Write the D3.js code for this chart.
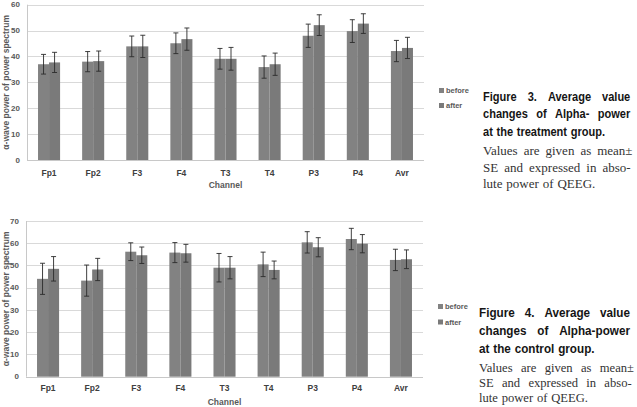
<!DOCTYPE html>
<html>
<head>
<meta charset="utf-8">
<script src="https://cdn.jsdelivr.net/npm/d3@7"></script>
<style>
  html, body { margin: 0; padding: 0; background: #fff; }
  svg { display: block; }
  .tick-label { font-family: "Liberation Sans", Arial, sans-serif; font-weight: bold; font-size: 8px; fill: #595959; }
  .cat-label { font-family: "Liberation Sans", Arial, sans-serif; font-weight: bold; font-size: 8.5px; fill: #404040; }
  .axis-title { font-family: "Liberation Sans", Arial, sans-serif; font-weight: bold; font-size: 8.5px; fill: #595959; }
  .legend-text { font-family: "Liberation Sans", Arial, sans-serif; font-weight: bold; font-size: 7.5px; fill: #595959; }
  .cap-bold { font-family: "Liberation Sans", Arial, sans-serif; font-weight: bold; font-size: 13px; fill: #151515; }
  .cap-serif { font-family: "Liberation Serif", "Times New Roman", serif; font-size: 13px; fill: #333; }
</style>
</head>
<body>
<svg id="chart" width="637" height="407"></svg>
<script>
// ---------- DATA ----------
const channels = ["Fp1", "Fp2", "F3", "F4", "T3", "T4", "P3", "P4", "Avr"];
const seriesNames = ["before", "after"];

// Figure 3: treatment group
const treatBefore   = [37.0, 38.0, 43.9, 45.1, 39.1, 35.9, 48.0, 49.8, 42.1];
const treatBeforeSE = [3.8, 3.9, 4.0, 4.0, 4.0, 4.3, 4.5, 4.4, 4.1];
const treatAfter    = [37.7, 38.2, 43.9, 46.7, 39.1, 37.0, 52.1, 52.7, 43.3];
const treatAfterSE  = [3.9, 3.9, 4.3, 4.3, 4.4, 4.3, 4.0, 3.8, 4.1];
const treatTicks    = [0, 10, 20, 30, 40, 50, 60];

// Figure 4: control group
const ctrlBefore    = [44.0, 43.2, 56.2, 55.8, 49.0, 50.5, 60.4, 61.9, 52.5];
const ctrlBeforeSE  = [7.0, 7.0, 4.0, 4.5, 6.4, 5.5, 4.8, 4.8, 4.8];
const ctrlAfter     = [48.5, 48.2, 54.6, 55.5, 49.0, 48.0, 58.2, 59.8, 52.8];
const ctrlAfterSE   = [5.5, 5.0, 3.7, 4.0, 5.0, 4.0, 4.3, 4.1, 4.2];
const ctrlTicks     = [0, 10, 20, 30, 40, 50, 60, 70];

const yTitle = "α-wave power of power spectrum";
const xTitle = "Channel";

const fig3Bold  = ["Figure 3. Average value", "changes of Alpha- power", "at the treatment group."];
const fig3Serif = ["Values are given as mean±", "SE and expressed in abso-", "lute power of QEEG."];
const fig4Bold  = ["Figure 4. Average value", "changes of Alpha-power", "at the control group."];
const fig4Serif = ["Values are given as mean±", "SE and expressed in abso-", "lute power of QEEG."];

// ---------- DRAW ----------
const svg = d3.select("#chart");
const colors = { before: "#828282", after: "#7a7a7a" };

function drawChart(opt) {
  const g = svg.append("g");
  const x = d3.scaleBand().domain(channels).range([opt.left, opt.right]).paddingInner(0.5).paddingOuter(0.25);
  const xs = d3.scaleBand().domain(seriesNames).range([0, x.bandwidth()]);
  const y = d3.scaleLinear().domain([0, d3.max(opt.ticks)]).range([opt.bottom, opt.top]);

  g.selectAll(".grid").data(opt.ticks.filter(t => t > 0)).join("line")
    .attr("x1", opt.left).attr("x2", opt.right)
    .attr("y1", d => Math.round(y(d)) + 0.5).attr("y2", d => Math.round(y(d)) + 0.5)
    .attr("stroke", "#d9d9d9").attr("stroke-width", 1);

  g.append("line").attr("x1", opt.left + 0.5).attr("x2", opt.left + 0.5)
    .attr("y1", y(d3.max(opt.ticks))).attr("y2", opt.bottom)
    .attr("stroke", "#c8c8c8");

  g.selectAll(".tick-label").data(opt.ticks).join("text")
    .attr("class", "tick-label")
    .attr("x", opt.left - 7).attr("y", d => y(d)).attr("dy", "0.33em")
    .attr("text-anchor", "end").text(d => d);

  const rows = channels.map((c, i) => ({
    c,
    vals: [
      { s: "before", v: opt.before[i], e: opt.beforeSE[i] },
      { s: "after", v: opt.after[i], e: opt.afterSE[i] }
    ]
  }));

  const grp = g.selectAll(".grp").data(rows).join("g")
    .attr("transform", d => `translate(${x(d.c)},0)`);

  grp.selectAll("rect").data(d => d.vals).join("rect")
    .attr("x", d => xs(d.s)).attr("width", xs.bandwidth())
    .attr("y", d => y(d.v)).attr("height", d => y(0) - y(d.v))
    .attr("fill", d => colors[d.s]);

  const eb = grp.selectAll(".eb").data(d => d.vals).join("g")
    .attr("transform", d => `translate(${xs(d.s) + xs.bandwidth() / 2},0)`);
  eb.append("line").attr("x1", 0).attr("x2", 0)
    .attr("y1", d => y(d.v + d.e)).attr("y2", d => y(d.v - d.e))
    .attr("stroke", "#2b2b2b").attr("stroke-width", 0.9);
  eb.append("line").attr("x1", -2.5).attr("x2", 2.5)
    .attr("y1", d => y(d.v + d.e)).attr("y2", d => y(d.v + d.e))
    .attr("stroke", "#2b2b2b").attr("stroke-width", 0.9);
  eb.append("line").attr("x1", -2.5).attr("x2", 2.5)
    .attr("y1", d => y(d.v - d.e)).attr("y2", d => y(d.v - d.e))
    .attr("stroke", "#2b2b2b").attr("stroke-width", 0.9);

  g.append("line").attr("x1", opt.left).attr("x2", opt.right)
    .attr("y1", Math.round(opt.bottom) + 0.5).attr("y2", Math.round(opt.bottom) + 0.5)
    .attr("stroke", "#c8c8c8");

  g.selectAll(".cat-label").data(channels).join("text")
    .attr("class", "cat-label")
    .attr("x", d => x(d) + x.bandwidth() / 2).attr("y", opt.catY)
    .attr("text-anchor", "middle").text(d => d);

  g.append("text").attr("class", "axis-title")
    .attr("x", (opt.left + opt.right) / 2).attr("y", opt.xTitleY)
    .attr("text-anchor", "middle").text(xTitle);

  g.append("text").attr("class", "axis-title")
    .attr("transform", `translate(${opt.yTitleX},${(opt.top + opt.bottom) / 2}) rotate(-90)`)
    .attr("text-anchor", "middle").text(yTitle);

  seriesNames.forEach((s, i) => {
    const ly = opt.legendY + i * opt.legendGap;
    g.append("rect").attr("x", opt.legendX).attr("y", ly - 4.5).attr("width", 5).attr("height", 5)
      .attr("fill", colors[s]);
    g.append("text").attr("class", "legend-text")
      .attr("x", opt.legendX + 7).attr("y", ly).attr("dy", "0.1em").text(s);
  });
}

drawChart({
  left: 27, right: 424, top: 4.7, bottom: 160, ticks: treatTicks,
  before: treatBefore, beforeSE: treatBeforeSE, after: treatAfter, afterSE: treatAfterSE,
  catY: 176, xTitleY: 187.5, yTitleX: 9,
  legendX: 439, legendY: 92.5, legendGap: 15
});

drawChart({
  left: 26, right: 423, top: 221, bottom: 376.7, ticks: ctrlTicks,
  before: ctrlBefore, beforeSE: ctrlBeforeSE, after: ctrlAfter, afterSE: ctrlAfterSE,
  catY: 390.7, xTitleY: 404.5, yTitleX: 8.5,
  legendX: 438, legendY: 308.5, legendGap: 15.5
});

// ---------- CAPTIONS ----------
function spaceWidth(cls) {
  const a = svg.append("text").attr("class", cls).text("a a");
  const b = svg.append("text").attr("class", cls).text("aa");
  const w = a.node().getComputedTextLength() - b.node().getComputedTextLength();
  a.remove(); b.remove();
  return w;
}

// words placed individually and squeezed horizontally with a transform;
// justified lines end at x1, the last line of a paragraph keeps normal word spacing
function drawLine(cls, text, x0, x1, yb, squeeze, justify) {
  const g = svg.append("g");
  const words = text.split(" ");
  const nodes = words.map(w => g.append("text").attr("class", cls).text(w));
  const widths = nodes.map(n => n.node().getComputedTextLength() * squeeze);
  const total = d3.sum(widths);
  const gap = justify ? (x1 - x0 - total) / (words.length - 1) : spaceWidth(cls) * squeeze + 0.6;
  let cx = x0;
  nodes.forEach((n, i) => {
    n.attr("transform", `translate(${cx},${yb}) scale(${squeeze},1)`);
    cx += widths[i] + gap;
  });
}

function drawCaption(c) {
  const nb = c.bold.length, ns = c.serif.length;
  c.bold.forEach((t, i) => drawLine("cap-bold", t, c.x0, c.boldEnd, c.boldY + i * c.boldGap, c.boldSqueeze, i < nb - 1));
  c.serif.forEach((t, i) => drawLine("cap-serif", t, c.x0, c.serifEnds[i], c.serifY + i * c.serifGap, c.serifSqueeze, i < ns - 1));
}

drawCaption({ bold: fig3Bold, serif: fig3Serif, x0: 483, boldEnd: 630.3, serifEnds: [632.5, 630.7],
  boldY: 100.7, boldGap: 17.7, serifY: 155, serifGap: 16.7, boldSqueeze: 0.85, serifSqueeze: 1.0 });
drawCaption({ bold: fig4Bold, serif: fig4Serif, x0: 479, boldEnd: 630, serifEnds: [634, 631.7],
  boldY: 317.3, boldGap: 17.9, serifY: 371.7, serifGap: 15, boldSqueeze: 0.9, serifSqueeze: 0.97 });
</script>
</body>
</html>
